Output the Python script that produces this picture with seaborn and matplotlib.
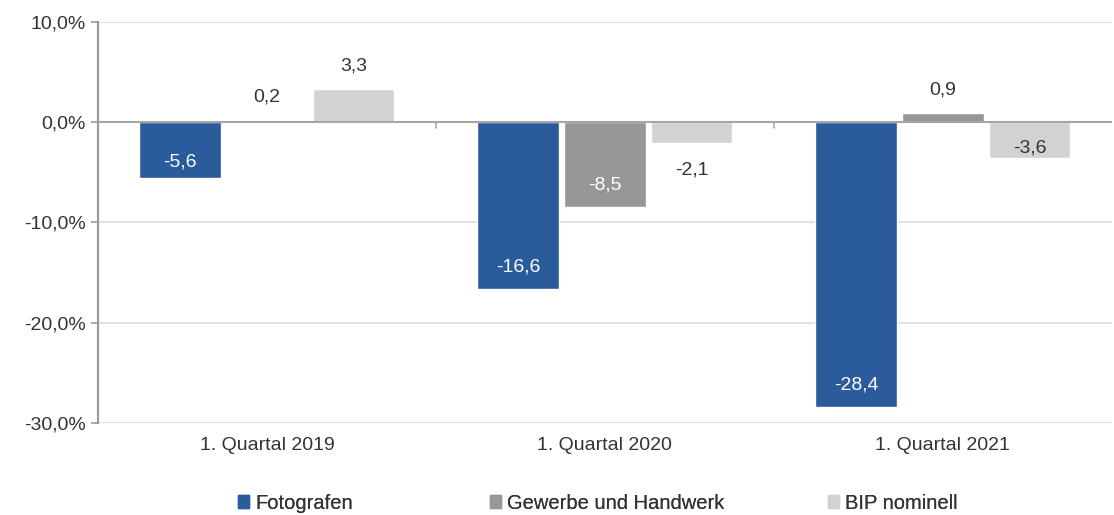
import matplotlib
matplotlib.use("Agg")
import matplotlib.pyplot as plt
from matplotlib.patches import Patch
import pandas as pd
import seaborn as sns

# ── Daten ─────────────────────────────────────────────────────────────
quartale = ["1. Quartal 2019", "1. Quartal 2020", "1. Quartal 2021"]
reihen = ["Fotografen", "Gewerbe und Handwerk", "BIP nominell"]
fotografen = [-5.6, -16.6, -28.4]
gewerbe = [0.2, -8.5, 0.9]
bip = [3.3, -2.1, -3.6]
y_ticks = [10, 0, -10, -20, -30]

farben = ["#2A5B9B", "#969696", "#D2D2D2"]
text_farben = ["white", "white", "#333333"]

df = pd.DataFrame({
    "Quartal": quartale * 3,
    "Reihe": [r for r in reihen for _ in quartale],
    "Wert": fotografen + gewerbe + bip,
})

sns.set_theme(style="white")
plt.rcParams["font.family"] = ["Liberation Sans", "DejaVu Sans"]

fig = plt.figure(figsize=(11.14, 5.15), dpi=100)
ax = fig.add_axes([0.088, 0.179, 0.910, 0.778])

sns.barplot(
    data=df, x="Quartal", y="Wert", hue="Reihe",
    order=quartale, hue_order=reihen, palette=farben,
    width=0.77, gap=0.06, saturation=1, legend=False, ax=ax,
)

# ── Achsen ────────────────────────────────────────────────────────────
ax.set_ylim(-30, 10)
ax.set_xlim(-0.5, 2.5)
ax.set_yticks(y_ticks)
ax.set_yticklabels([f"{t:.1f}%".replace(".", ",") for t in y_ticks],
                   fontsize=14, color="#333333")
ax.set_xticks(range(len(quartale)))
ax.set_xticklabels(quartale, fontsize=14, color="#333333")
ax.set_xlabel("")
ax.set_ylabel("")
ax.tick_params(axis="x", length=0, pad=10)
ax.tick_params(axis="y", length=5, width=1.2, color="#999999", left=True, pad=4)

for t in y_ticks:
    if t != 0:
        ax.axhline(t, color="#DDDDDD", lw=1.2, zorder=0)
ax.axhline(0, color="#A6A6A6", lw=1.5, zorder=3)
for xb in [0.5, 1.5]:
    ax.plot([xb, xb], [0, -0.6], color="#A6A6A6", lw=1.2, zorder=3)

for s in ["top", "right", "bottom"]:
    ax.spines[s].set_visible(False)
ax.spines["left"].set_color("#999999")
ax.spines["left"].set_linewidth(1.5)

# ── Datenbeschriftungen ───────────────────────────────────────────────
for container, tcol in zip(ax.containers, text_farben):
    for bar in container:
        v = bar.get_height()
        x = bar.get_x() + bar.get_width() / 2
        label = f"{v:.1f}".replace(".", ",")
        if v >= 0:
            ax.text(x, v + 2.3, label, ha="center", va="center",
                    fontsize=14, color="#333333")
        elif v > -3:
            ax.text(x, v - 2.7, label, ha="center", va="center",
                    fontsize=14, color="#333333")
        else:
            ax.text(x, v + min(2.2, 0.3 * abs(v)), label, ha="center",
                    va="center", fontsize=14, color=tcol)

# ── Legende (Excel-artig verteilt) ────────────────────────────────────
for c, r, xpos in zip(farben, reihen, [0.2135, 0.4395, 0.743]):
    leg = fig.legend(handles=[Patch(color=c, label=r)], loc="center left",
                     bbox_to_anchor=(xpos, 0.023), frameon=False,
                     fontsize=14.5, handlelength=0.55, handleheight=0.55,
                     handletextpad=0.3, borderpad=0, borderaxespad=0,
                     labelcolor="#333333")
    fig.add_artist(leg)

fig.savefig("out.png", dpi=100)
